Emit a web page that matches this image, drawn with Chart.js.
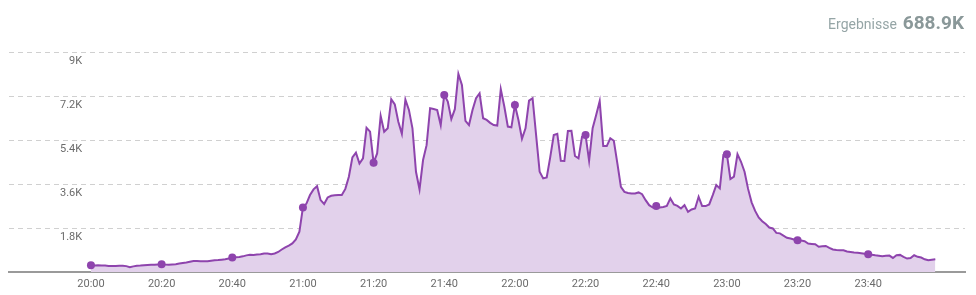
<!DOCTYPE html>
<html>
<head>
<meta charset="utf-8">
<script src="https://cdn.jsdelivr.net/npm/chart.js@4.4.0/dist/chart.umd.min.js"></script>
<style>
  html, body { margin: 0; padding: 0; background: #fff; }
  #wrap { position: relative; width: 976px; height: 295px; }
  #total {
    position: absolute; top: 13px; right: 12px;
    font-family: Roboto, sans-serif; color: #95a5a6;
    line-height: 19px; white-space: nowrap;
  }
  #total .lbl { font-size: 14px; }
  #total .num { font-size: 19px; font-weight: bold; color: #8a9899; margin-left: 2px; }
</style>
</head>
<body>
<div id="wrap">
  <canvas id="chart" width="976" height="295"></canvas>
  <div id="total"><span class="lbl">Ergebnisse</span> <span class="num">688.9K</span></div>
</div>
<script>
// one value per minute, 20:00 .. 23:59
const visits = [
  275, 270, 275, 270, 265, 250, 245, 250, 255, 260,
  240, 200, 230, 255, 265, 280, 290, 300, 295, 305,
  315, 305, 300, 310, 320, 345, 370, 390, 420, 450,
  445, 440, 435, 440, 460, 480, 490, 505, 520, 550,
  590, 600, 615, 640, 680, 705, 700, 715, 730, 760,
  760, 730, 760, 820, 920, 1010, 1080, 1170, 1330, 1650,
  2640, 2800, 3150, 3380, 3510, 2940, 2780, 3050, 3120, 3140,
  3150, 3150, 3400, 3900, 4690, 4880, 4440, 4650, 5900, 5740,
  4470, 4850, 6390, 5740, 5880, 7070, 6860, 6150, 5650, 7050,
  6630, 5880, 4100, 3380, 4580, 5190, 6700, 6670, 6630, 6010,
  7245, 6970, 6260, 6660, 8100, 7650, 6180, 6010, 6630, 7110,
  7310, 6290, 6220, 6100, 6010, 5990, 7480, 6770, 5950, 5920,
  6835, 6220, 5450, 5880, 7010, 7110, 5600, 4100, 3830, 3870,
  4700, 5600, 5650, 4550, 4540, 5770, 5780, 4745, 4650, 5535,
  5600, 4550, 5880, 6425, 6990, 5150, 5150, 5470, 5370, 4440,
  3485, 3280, 3230, 3215, 3215, 3255, 3185, 2940, 2735, 2640,
  2705, 2640, 2660, 2700, 3010, 2765, 2705, 2600, 2735, 2460,
  2560, 2600, 3075, 2695, 2695, 2765, 3145, 3555, 3420, 4785,
  4815, 3800, 3900, 4820, 4510, 4100, 3400, 2850, 2500, 2230,
  2080, 1960, 1820, 1780, 1600, 1580, 1490, 1400, 1370, 1330,
  1300, 1290, 1260, 1165, 1150, 1135, 1030, 1050, 1065, 990,
  920, 900, 890, 890, 840, 820, 800, 785, 770, 750,
  725, 710, 685, 665, 645, 660, 670, 575, 690, 700,
  620, 550, 575, 685, 620, 590, 520, 480, 500, 520
];

const xTicks = [0, 20, 40, 60, 80, 100, 120, 140, 160, 180, 200, 220];
const xTickLabels = ['20:00', '20:20', '20:40', '21:00', '21:20', '21:40',
                     '22:00', '22:20', '22:40', '23:00', '23:20', '23:40'];
const yTicks = [1800, 3600, 5400, 7200, 9000];
const yTickLabels = ['1.8K', '3.6K', '5.4K', '7.2K', '9K'];

const purple = '#8e44ad';
const tickFont = { family: 'Roboto', size: 11 };

new Chart(document.getElementById('chart').getContext('2d'), {
  type: 'line',
  data: {
    datasets: [{
      data: visits.map((v, i) => ({ x: i, y: v })),
      borderColor: purple,
      borderWidth: 2,
      backgroundColor: '#e2d1eb',
      fill: 'origin',
      tension: 0,
      pointRadius: ctx => (xTicks.includes(ctx.dataIndex) ? 4 : 0),
      pointHoverRadius: 0,
      pointBackgroundColor: purple,
      pointBorderColor: purple,
      pointBorderWidth: 0
    }]
  },
  options: {
    responsive: false,
    animation: false,
    devicePixelRatio: 1,
    layout: { padding: { left: 9, right: 11, top: 52, bottom: 0 } },
    plugins: { legend: { display: false }, tooltip: { enabled: false } },
    scales: {
      x: {
        type: 'linear',
        min: -23.2,
        max: 247.4,
        afterBuildTicks: s => { s.ticks = xTicks.map(v => ({ value: v })); },
        afterFit: s => { s.height = 23; },
        grid: { display: false, drawTicks: false },
        border: { display: true, color: '#9a9a9a', width: 2 },
        ticks: {
          padding: 6,
          color: '#6b6b6b',
          font: tickFont,
          maxRotation: 0,
          autoSkip: false,
          callback: (v, i) => xTickLabels[i]
        }
      },
      y: {
        min: 0,
        max: 9000,
        afterBuildTicks: s => { s.ticks = yTicks.map(v => ({ value: v })); },
        // labels sit inside the plot, so the axis itself takes no room
        afterFit: s => { s.width = 0; s.paddingTop = 0; s.paddingBottom = 0; },
        grid: { color: '#d0d0d0', lineWidth: 1, drawTicks: false },
        border: { display: false, dash: [5, 4] },
        ticks: {
          mirror: true,
          crossAlign: 'far',
          padding: 51,
          labelOffset: 9,
          color: '#6b6b6b',
          font: tickFont,
          callback: (v, i) => yTickLabels[i]
        }
      }
    }
  }
});
</script>
</body>
</html>
